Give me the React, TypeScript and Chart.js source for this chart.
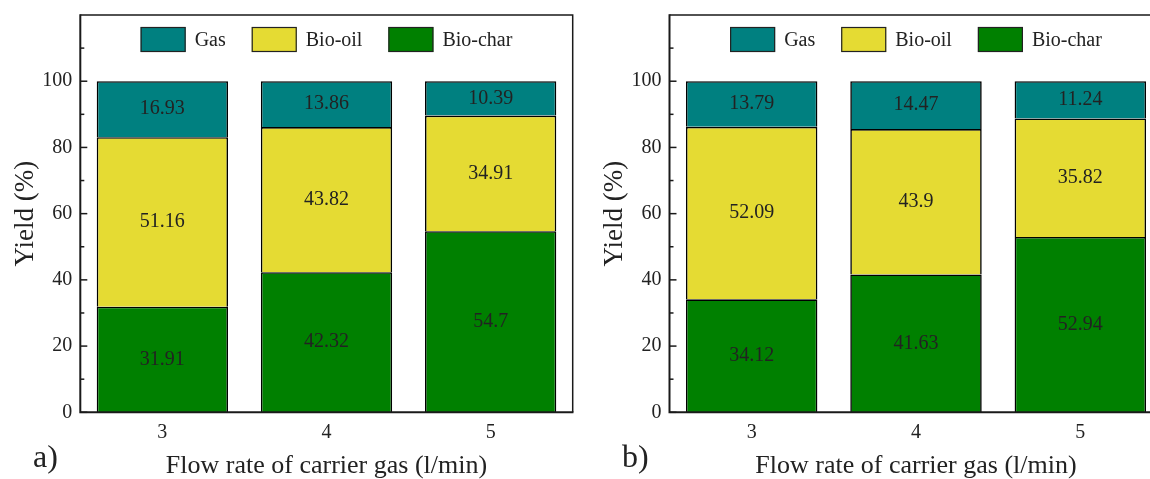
import React, { useEffect, useRef } from "react";
import { Chart, registerables } from "chart.js";
Chart.register(...registerables);

const categories = ["3", "4", "5"];
const seriesNames = ["Bio-char", "Bio-oil", "Gas"];
const bioCharA = [31.91, 42.32, 54.7];
const bioOilA = [51.16, 43.82, 34.91];
const gasA = [16.93, 13.86, 10.39];
const bioCharB = [34.12, 41.63, 52.94];
const bioOilB = [52.09, 43.9, 35.82];
const gasB = [13.79, 14.47, 11.24];
const yTickLabels = [0, 20, 40, 60, 80, 100];
const yMinorTicks = [10, 30, 50, 70, 90, 110];

const FONT = "'Liberation Serif', 'Times New Roman', serif";
const COLORS = ["#008000", "#E5DB33", "#008080"];
const TEXT = "#222222";

function makeConfig(
  char: number[],
  oil: number[],
  gas: number[],
  letter: string,
  letterX: number,
  padLeft: number,
  yWidth: number,
  padRight: number
): any {
  const series = [char, oil, gas];
  const panelPlugin = {
    id: "panelExtras" + letter,
    afterDatasetsDraw(chart: any) {
      const ctx = chart.ctx;
      ctx.save();
      ctx.font = `20px ${FONT}`;
      ctx.fillStyle = TEXT;
      ctx.textAlign = "center";
      ctx.textBaseline = "middle";
      chart.data.datasets.forEach((ds: any, di: number) => {
        const meta = chart.getDatasetMeta(di);
        meta.data.forEach((el: any, i: number) => {
          const p = el.getProps(["x", "y", "base"], true);
          ctx.fillText(String(ds.data[i]), p.x, (p.y + p.base) / 2);
        });
      });
      ctx.restore();
    },
    afterDraw(chart: any) {
      const ctx = chart.ctx;
      const a = chart.chartArea;
      const ys = chart.scales.y;
      ctx.save();
      ctx.strokeStyle = "#1a1a1a";
      // top and right
      ctx.lineWidth = 1.5;
      ctx.beginPath();
      ctx.moveTo(a.left, a.top);
      ctx.lineTo(a.right, a.top);
      ctx.lineTo(a.right, a.bottom);
      ctx.stroke();
      // left and bottom
      ctx.lineWidth = 2;
      ctx.beginPath();
      ctx.moveTo(a.left, a.top - 0.75);
      ctx.lineTo(a.left, a.bottom);
      ctx.lineTo(a.right + 0.75, a.bottom);
      ctx.stroke();
      // inward ticks
      ctx.lineWidth = 1.5;
      yTickLabels.forEach((v) => {
        const y = ys.getPixelForValue(v);
        ctx.beginPath();
        ctx.moveTo(a.left, y);
        ctx.lineTo(a.left + 7, y);
        ctx.stroke();
      });
      yMinorTicks.forEach((v) => {
        const y = ys.getPixelForValue(v);
        ctx.beginPath();
        ctx.moveTo(a.left, y);
        ctx.lineTo(a.left + 4, y);
        ctx.stroke();
      });
      // legend inside the plot area (reversed order)
      ctx.font = `20px ${FONT}`;
      const items = chart.data.datasets
        .map((ds: any) => ({ label: ds.label, color: ds.backgroundColor }))
        .reverse();
      const boxW = 45;
      const boxH = 25;
      const gapText = 9;
      const gapItem = 26;
      const widths = items.map((it: any) => boxW + gapText + ctx.measureText(it.label).width);
      const total = widths.reduce((s: number, w: number) => s + w, 0) + gapItem * (items.length - 1);
      let x = (a.left + a.right) / 2 - total / 2;
      const boxTop = a.top + 12;
      items.forEach((it: any, i: number) => {
        ctx.fillStyle = it.color;
        ctx.fillRect(x, boxTop, boxW, boxH);
        ctx.lineWidth = 1.2;
        ctx.strokeStyle = "#222222";
        ctx.strokeRect(x + 0.5, boxTop + 0.5, boxW - 1, boxH - 1);
        ctx.fillStyle = TEXT;
        ctx.textAlign = "left";
        ctx.textBaseline = "middle";
        ctx.fillText(it.label, x + boxW + gapText, boxTop + boxH / 2 + 1);
        x += widths[i] + gapItem;
      });
      // panel letter
      ctx.font = `32px ${FONT}`;
      ctx.fillStyle = TEXT;
      ctx.textAlign = "left";
      ctx.textBaseline = "alphabetic";
      ctx.fillText(letter, letterX, 467);
      ctx.restore();
    },
  };

  return {
    type: "bar",
    data: {
      labels: categories,
      datasets: seriesNames.map((name, i) => ({
        label: name,
        data: series[i],
        backgroundColor: COLORS[i],
        borderColor: "#000000",
        borderWidth: 1.6,
        barPercentage: 0.8,
        categoryPercentage: 1.0,
      })),
    },
    options: {
      responsive: false,
      animation: false,
      devicePixelRatio: 1,
      layout: { padding: { left: padLeft, top: 15, right: padRight, bottom: 0 } },
      plugins: {
        tooltip: { enabled: false },
        legend: { display: false },
      },
      scales: {
        x: {
          stacked: true,
          grid: { display: false, drawTicks: false },
          border: { display: false },
          ticks: { color: TEXT, font: { family: FONT, size: 20 }, padding: 8 },
          title: {
            display: true,
            text: "Flow rate of carrier gas (l/min)",
            color: TEXT,
            font: { family: FONT, size: 26, lineHeight: 1 },
            padding: 0,
          },
          afterFit: (s: any) => {
            s.height = 66.7;
            s.paddingLeft = 0;
            s.paddingRight = 0;
          },
        },
        y: {
          stacked: true,
          min: 0,
          max: 120,
          grid: { display: false, drawTicks: false },
          border: { display: false },
          afterBuildTicks: (s: any) => {
            s.ticks = yTickLabels.map((v) => ({ value: v }));
          },
          ticks: { color: TEXT, font: { family: FONT, size: 20 }, padding: 8 },
          title: {
            display: true,
            text: "Yield (%)",
            color: TEXT,
            font: { family: FONT, size: 27, lineHeight: 1 },
            padding: { top: 4, bottom: 0 },
          },
          afterFit: (s: any) => {
            s.width = yWidth;
            s.paddingTop = 0;
            s.paddingBottom = 0;
          },
        },
      },
    },
    plugins: [panelPlugin],
  };
}

function Panel(props: { cfg: () => any; left: number; width: number }) {
  const ref = useRef<HTMLCanvasElement | null>(null);
  useEffect(() => {
    if (!ref.current) return;
    const chart = new Chart(ref.current, props.cfg());
    return () => chart.destroy();
  }, []);
  return (
    <canvas
      ref={ref}
      width={props.width}
      height={479}
      style={{ position: "absolute", left: props.left, top: 0, width: props.width, height: 479 }}
    />
  );
}

export default function App() {
  return (
    <div
      style={{
        position: "fixed",
        left: 0,
        top: 0,
        width: 1150,
        height: 479,
        overflow: "hidden",
        background: "#ffffff",
      }}
    >
      <Panel
        left={0}
        width={580}
        cfg={() => makeConfig(bioCharA, bioOilA, gasA, "a)", 33, 8, 72.3, 7.3)}
      />
      <Panel
        left={580}
        width={590}
        cfg={() => makeConfig(bioCharB, bioOilB, gasB, "b)", 42, 17, 72.5, 7.5)}
      />
    </div>
  );
}
